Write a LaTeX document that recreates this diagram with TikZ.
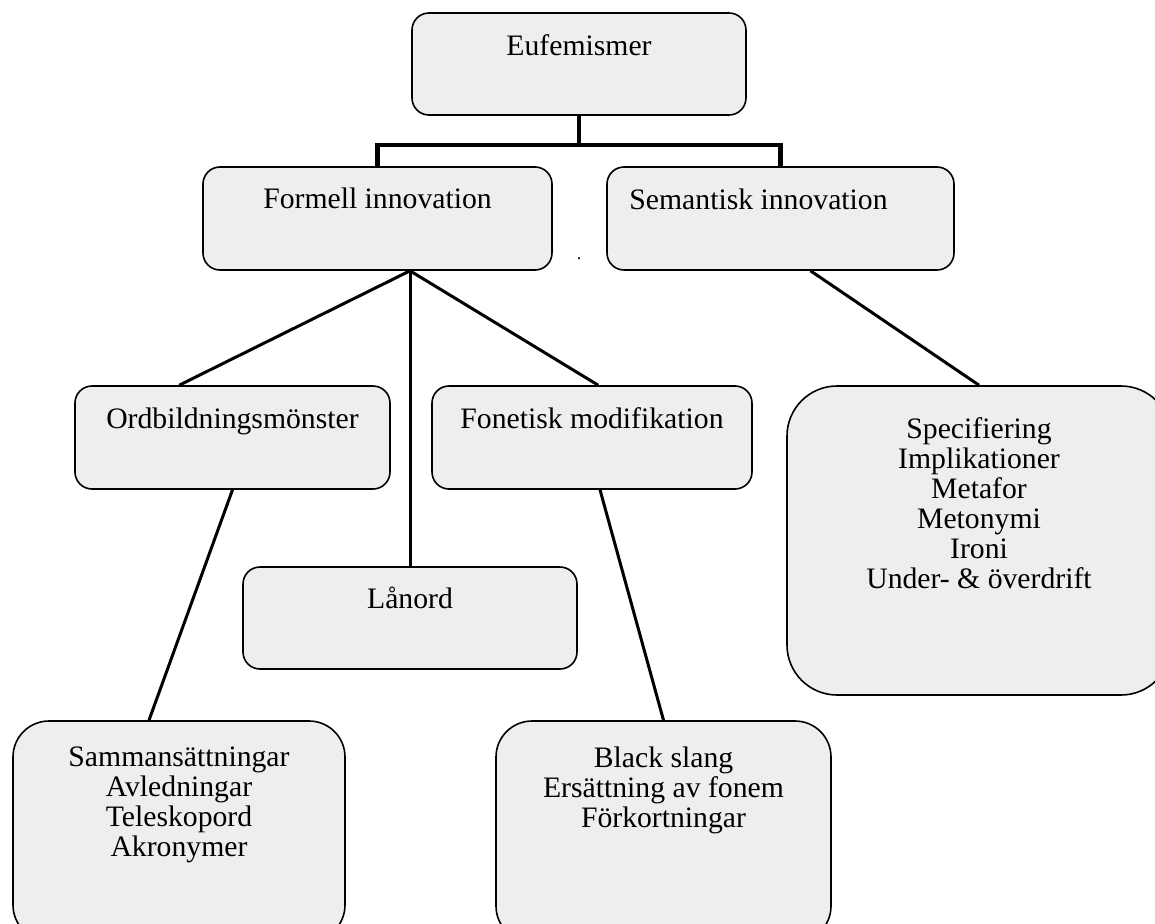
\documentclass[tikz,border=0pt]{standalone}
\usepackage{fontspec}
\setmainfont{Liberation Serif}
\usetikzlibrary{positioning}
\definecolor{boxgray}{RGB}{238,238,238}
\tikzset{
  box/.style={draw, line width=1.6pt, fill=boxgray, rounded corners=17pt, inner sep=0pt},
  lbl/.style={inner sep=0pt, align=center, font=\fontsize{29.7}{30}\selectfont},
  branch/.style={line width=3pt},
  trunk/.style={line width=4.5pt}
}
\begin{document}
\begin{tikzpicture}[x=1pt,y=-1pt]
\useasboundingbox (0,0) rectangle (1155,923);

\node[box, minimum width=334pt, minimum height=102pt] (euf) at (579,64) {};
\node[box, minimum width=349pt, minimum height=103pt] (formell) at (377.5,218.5) {};
\node[box, minimum width=347pt, minimum height=103pt] (semantisk) at (780.5,218.5) {};
\node[box, minimum width=315pt, minimum height=103pt] (ordbild) at (232.5,437.5) {};
\node[box, minimum width=320pt, minimum height=103pt] (fonetisk) at (592,437.5) {};
\node[box, minimum width=334pt, minimum height=102pt] (lanord) at (410,618) {};
\node[box, rounded corners=50pt, minimum width=384pt, minimum height=309pt] (specif) at (979,540.5) {};
\node[box, rounded corners=36pt, minimum width=332pt, minimum height=220pt] (samman) at (179,831) {};
\node[box, rounded corners=36pt, minimum width=335pt, minimum height=221pt] (black) at (663.5,831.5) {};

\node[lbl, below=22pt of euf.north] (euflbl) {Eufemismer};
\node[lbl, below=21pt of formell.north] (formelllbl) {Formell innovation};
\node[lbl, below right=22pt and 23pt of semantisk.north west] (semlbl) {Semantisk innovation};
\node[lbl, below=22pt of ordbild.north] (ordlbl) {Ordbildningsmönster};
\node[lbl, below=22pt of fonetisk.north] (fonlbl) {Fonetisk modifikation};
\node[lbl, below=21pt of lanord.north] (lanlbl) {Lånord};
\node[lbl, below=32pt of specif.north] (speclbl) {Specifiering\\Implikationer\\Metafor\\Metonymi\\Ironi\\Under- \& överdrift};
\node[lbl, below=26pt of samman.north] (sammanlbl) {Sammansättningar\\Avledningar\\Teleskopord\\Akronymer};
\node[lbl, below=26pt of black.north] (blacklbl) {Black slang\\Ersättning av fonem\\Förkortningar};

\node[anchor=base, inner sep=0pt, font=\fontsize{18}{20}\selectfont] (dot) at (579,259) {.};

% top level
\coordinate (split) at (579,145);
\draw[trunk] (euf) -- (split) -| (formell);
\draw[trunk] (split) -| (semantisk);

% formell innovation
\coordinate (apex) at (formell.south -| lanord.north);
\draw[branch] (apex) -- ([xshift=105pt]ordbild.north west);
\draw[branch] (apex) -- (lanord);
\draw[branch] (apex) -- ([xshift=167pt]fonetisk.north west);
\draw[branch] (ordbild.south) -- ([xshift=-30pt]samman.north);
\draw[branch] ([xshift=8pt]fonetisk.south) -- (black.north);

% semantisk innovation
\draw[branch] ([xshift=30pt]semantisk.south) -- (specif.north);
\end{tikzpicture}
\end{document}
